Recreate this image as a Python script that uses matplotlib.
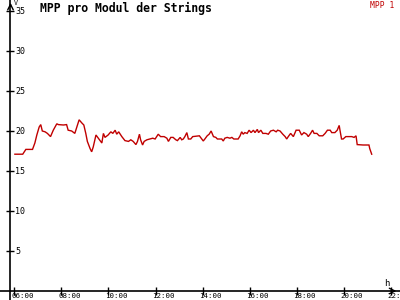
import matplotlib
matplotlib.use("Agg")
import matplotlib.pyplot as plt
import matplotlib.transforms as mtransforms

title = "MPP pro Modul der Strings"
series_name = "MPP 1"
y_ticks = [5, 10, 15, 20, 25, 30, 35]
x_ticks = [6, 8, 10, 12, 14, 16, 18, 20, 22]
x_tick_labels = ["06:00", "08:00", "10:00", "12:00", "14:00", "16:00", "18:00", "20:00", "22:00"]

times = ["06:01", "06:21", "06:29", "06:46", "06:52", "06:57", "07:03", "07:07", "07:11", "07:18",
         "07:24", "07:32", "07:39", "07:48", "07:52", "08:05", "08:13", "08:17", "08:26", "08:34",
         "08:45", "08:52", "08:57", "09:02", "09:06", "09:13", "09:17", "09:21", "09:28", "09:34",
         "09:43", "09:47", "09:51", "09:59", "10:06", "10:11", "10:17", "10:21", "10:26", "10:34",
         "10:42", "10:51", "10:57", "11:03", "11:10", "11:14", "11:19", "11:22", "11:27", "11:31",
         "11:38", "11:46", "11:53", "11:59", "12:07", "12:13", "12:22", "12:29", "12:33", "12:39",
         "12:45", "12:52", "12:56", "13:03", "13:07", "13:11", "13:15", "13:20", "13:24", "13:30",
         "13:35", "13:52", "13:58", "14:02", "14:06", "14:12", "14:17", "14:22", "14:28", "14:34",
         "14:38", "14:49", "14:53", "14:57", "15:03", "15:10", "15:15", "15:20", "15:31", "15:36",
         "15:40", "15:44", "15:48", "15:54", "15:59", "16:04", "16:10", "16:14", "16:20", "16:23",
         "16:29", "16:34", "16:42", "16:48", "16:54", "17:01", "17:08", "17:12", "17:18", "17:25",
         "17:31", "17:35", "17:39", "17:45", "17:52", "17:59", "18:07", "18:13", "18:19", "18:26",
         "18:30", "18:36", "18:41", "18:45", "18:52", "18:58", "19:07", "19:13", "19:19", "19:26",
         "19:30", "19:38", "19:44", "19:49", "19:51", "19:55", "19:59", "20:06", "20:21", "20:27",
         "20:32", "20:35", "20:50", "21:05", "21:07", "21:12"]
values = [17.1, 17.1, 17.7, 17.7, 18.5, 19.5, 20.5, 20.8, 20.0, 19.9,
          19.7, 19.3, 20.1, 20.9, 20.8, 20.75, 20.8, 20.1, 20.0, 19.7,
          21.4, 21.0, 20.75, 19.7, 18.7, 17.8, 17.4, 18.0, 19.5, 19.1,
          18.5, 19.7, 19.2, 19.5, 19.9, 19.7, 20.1, 19.6, 19.9, 19.3,
          18.8, 18.7, 18.9, 18.7, 18.3, 18.7, 19.6, 18.9, 18.25, 18.7,
          18.9, 19.0, 19.1, 19.0, 19.6, 19.3, 19.3, 19.1, 18.7, 19.2,
          19.2, 18.9, 18.8, 19.2, 18.9, 19.0, 19.3, 19.8, 19.0, 19.0,
          19.3, 19.4, 19.0, 18.75, 19.0, 19.4, 19.6, 20.0, 19.3, 19.2,
          19.0, 19.0, 18.75, 19.1, 19.2, 19.1, 19.2, 19.0, 19.0, 19.4,
          19.9, 19.6, 19.8, 19.7, 20.1, 19.8, 20.1, 19.8, 20.2, 19.8,
          20.1, 19.7, 19.7, 19.6, 20.0, 20.1, 19.9, 20.1, 20.0, 19.6,
          19.3, 19.0, 19.3, 19.7, 19.3, 20.1, 20.1, 19.5, 19.8, 19.6,
          19.3, 19.7, 20.1, 19.7, 19.7, 19.4, 19.4, 19.7, 20.1, 20.1,
          19.8, 19.8, 20.1, 20.7, 20.1, 19.0, 19.0, 19.3, 19.3, 19.2,
          19.4, 18.3, 18.25, 18.25, 17.8, 17.1]

hours = [int(t[:2]) + int(t[3:]) / 60 for t in times]

RED = "#c00000"
mono = "DejaVu Sans Mono"

fig = plt.figure(figsize=(4, 3), dpi=100, facecolor="white")
ax = fig.add_axes([0, 0, 1, 1])
ax.set_facecolor("white")

px_per_h = 23.5
px_per_v = 8.0
x0 = 6 - 14.5 / px_per_h
x1 = 6 + 385.5 / px_per_h
y0 = -9.0 / px_per_v
y1 = 291.0 / px_per_v
ax.set_xlim(x0, x1)
ax.set_ylim(y0, y1)

yaxis_pos = 6 - 4.0 / px_per_h

ax.plot(hours, values, color=RED, lw=1.0, solid_joinstyle="miter")

for s in ["left", "top"]:
    ax.spines[s].set_visible(False)
ax.spines["right"].set_position(("data", yaxis_pos))
ax.spines["bottom"].set_position(("data", 0))
ax.spines["right"].set_linewidth(1.2)
ax.spines["bottom"].set_linewidth(1.2)

ax.yaxis.tick_right()
ax.set_yticks(y_ticks)
ax.set_yticklabels([str(v) for v in y_ticks])
ax.tick_params(axis="y", direction="inout", length=6, width=1, pad=0.5,
               labelsize=6, labelfontfamily=mono)
ax.set_xticks(x_ticks)
ax.set_xticklabels(x_tick_labels)
ax.tick_params(axis="x", direction="inout", length=6, width=1, pad=-1.5,
               labelsize=5.4, labelfontfamily=mono)
off = mtransforms.ScaledTranslation(-3 / 100, 0, fig.dpi_scale_trans)
for lab in ax.get_xticklabels():
    lab.set_horizontalalignment("left")
    lab.set_transform(lab.get_transform() + off)

# axis arrows
ax.annotate("", xy=(yaxis_pos, 1.0), xycoords=("data", "axes fraction"),
            xytext=(yaxis_pos, 0.97), textcoords=("data", "axes fraction"),
            arrowprops=dict(arrowstyle="->", lw=1, color="black"))
ax.annotate("", xy=(0.998, 0), xycoords=("axes fraction", "data"),
            xytext=(0.97, 0), textcoords=("axes fraction", "data"),
            arrowprops=dict(arrowstyle="->", lw=1, color="black"))

fig.text(14 / 400, 1.0, "V", ha="left", va="top", fontsize=4.8, family=mono)
fig.text(384 / 400, 1 - 279 / 300, "h", ha="left", va="top", fontsize=6.5, family=mono)
fig.text(40 / 400, 1 - 2 / 300, title, ha="left", va="top", fontsize=8.3,
         family=mono, fontweight="bold")
fig.text(370 / 400, 1 - 0.5 / 300, series_name, ha="left", va="top", fontsize=5.8,
         family=mono, color=RED)

fig.savefig("out.png", dpi=100, facecolor="white")
